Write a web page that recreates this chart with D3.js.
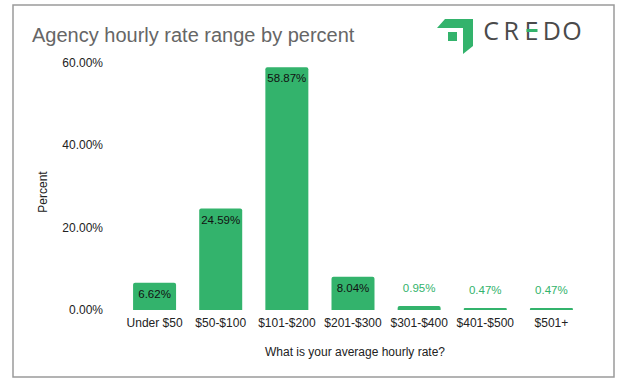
<!DOCTYPE html>
<html>
<head>
<meta charset="utf-8">
<script src="https://cdn.jsdelivr.net/npm/d3@7"></script>
<style>
  html, body { margin: 0; padding: 0; background: #fff; }
  svg { display: block; font-family: "Liberation Sans", Arial, sans-serif; }
</style>
</head>
<body>
<svg id="chart" width="626" height="386"></svg>
<script>
const categories = ["Under $50", "$50-$100", "$101-$200", "$201-$300", "$301-$400", "$401-$500", "$501+"];
const values = [6.62, 24.59, 58.87, 8.04, 0.95, 0.47, 0.47];
const yTicks = [0, 20, 40, 60];
const title = "Agency hourly rate range by percent";
const xTitle = "What is your average hourly rate?";
const yTitle = "Percent";

const green = "#33b36c";
const svg = d3.select("#chart");

// frame
svg.append("rect").attr("x", 13).attr("y", 5).attr("width", 601).attr("height", 372)
  .attr("fill", "#fff").attr("stroke", "#9a9a9a").attr("stroke-width", 1.5);

// title
svg.append("text").attr("x", 32).attr("y", 42).attr("font-size", 20)
  .attr("fill", "#666").text(title);

// logo
const logo = svg.append("g");
logo.append("path").attr("d", "M445,19 L473,19 L473,46 L463,54 L463,28 L437,28 Z").attr("fill", green);
logo.append("rect").attr("x", 448).attr("y", 32).attr("width", 9).attr("height", 9).attr("fill", green);
const credo = ["C", "R", "E", "D", "O"];
const credoX = d3.scalePoint().domain(credo).range([491, 572]);
logo.selectAll("text.l").data(credo).join("text")
  .attr("x", d => credoX(d)).attr("y", 40).attr("text-anchor", "middle")
  .attr("font-family", "'Open Sans', 'DejaVu Sans', sans-serif").attr("font-size", 25)
  .attr("fill", "#4a4a4a").text(d => d);
logo.append("rect").attr("x", credoX("E") - 5).attr("y", 29).attr("width", 11).attr("height", 3).attr("fill", green);

// scales
const x = d3.scaleBand().domain(categories).range([121.5, 584.5]).paddingInner(0.35).paddingOuter(0.175);
const y = d3.scaleLinear().domain([0, 60]).range([310, 62.5]);

// y axis
const yAxis = svg.append("g").attr("transform", "translate(103,0)")
  .call(d3.axisLeft(y).tickValues(yTicks).tickSize(0).tickPadding(0).tickFormat(d => d3.format(".2f")(d) + "%"));
yAxis.select(".domain").remove();
yAxis.selectAll("text").attr("font-size", 12).attr("fill", "#222").attr("font-family", "'Liberation Sans', Arial, sans-serif");

// x axis
const xAxis = svg.append("g").attr("transform", "translate(0,310)")
  .call(d3.axisBottom(x).tickSize(0).tickPadding(8));
xAxis.select(".domain").remove();
xAxis.selectAll("text").attr("font-size", 12).attr("fill", "#222").attr("font-family", "'Liberation Sans', Arial, sans-serif");

// bars
const r = 2;
svg.selectAll("path.bar").data(values).join("path")
  .attr("class", "bar").attr("fill", green)
  .attr("d", (d, i) => {
    const x0 = x(categories[i]), w = x.bandwidth(), y0 = y(d), y1 = y(0);
    const rr = Math.min(r, (y1 - y0) / 2);
    return `M${x0},${y1} L${x0},${y0 + rr} Q${x0},${y0} ${x0 + rr},${y0} L${x0 + w - rr},${y0} Q${x0 + w},${y0} ${x0 + w},${y0 + rr} L${x0 + w},${y1} Z`;
  });

// labels
svg.selectAll("text.val").data(values).join("text")
  .attr("class", "val").attr("text-anchor", "middle").attr("font-size", 11.5)
  .attr("x", (d, i) => x(categories[i]) + x.bandwidth() / 2)
  .attr("y", d => (y(0) - y(d) > 18) ? y(d) + 15 : y(d) - 14)
  .attr("fill", d => (y(0) - y(d) > 18) ? "#111" : green)
  .text(d => d3.format(".2f")(d) + "%");

// axis titles
svg.append("text").attr("x", 355).attr("y", 356).attr("text-anchor", "middle")
  .attr("font-size", 12).attr("fill", "#222").text(xTitle);
svg.append("text").attr("transform", "translate(47,192) rotate(-90)").attr("text-anchor", "middle")
  .attr("font-size", 12).attr("fill", "#222").text(yTitle);
</script>
</body>
</html>
